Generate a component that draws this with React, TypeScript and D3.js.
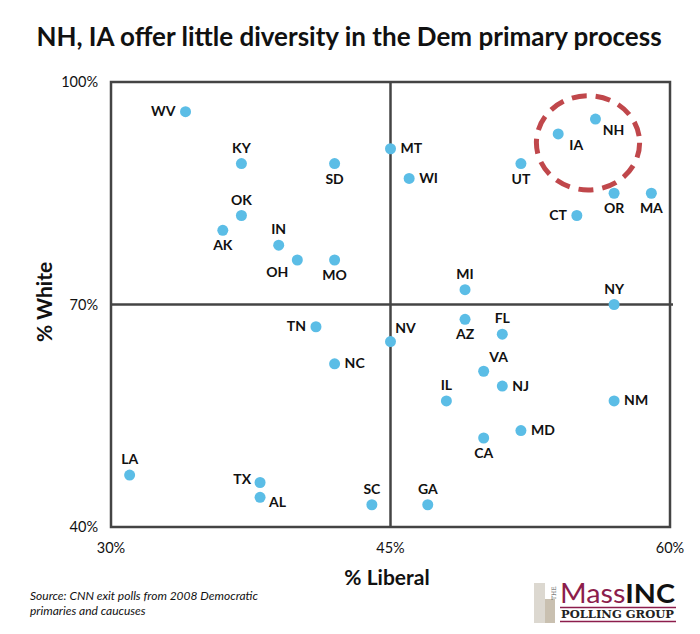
import React from "react";
import * as d3 from "d3";

const states = ["WV","KY","SD","OK","AK","IN","OH","MO","MT","WI","UT","IA","NH","OR","MA","CT","MI","NY","NV","AZ","FL","VA","NJ","IL","NM","MD","CA","GA","TN","NC","LA","TX","AL","SC"];
const liberal = [34,37,42,37,36,39,40,42,45,46,52,54,56,57,59,55,49,57,45,49,51,50,51,48,57,52,50,47,41,42,31,38,38,44];
const white = [96,89,89,82,80,78,76,76,91,87,89,93,95,85,85,82,72,70,65,68,66,61,59,57,57,53,52,43,67,62,47,46,44,43];
const labelPos = ["left","above","below","above","below","above","belowleft","below","right","right","below","belowright","belowright","below","below","left","above","above","aboveright","below","above","aboveright","right","above","right","right","below","above","left","right","above","leftup","rightdown","above"];

const xTicks = [30, 45, 60];
const yTicks = [40, 70, 100];
const highlightCenter = [55.6, 91.8];
const highlightRadius = [2.77, 6.35];

const W = 700, H = 634;
const FONT = "Lato, 'Open Sans', sans-serif";

export default function App() {
  const x = d3.scaleLinear().domain([30, 60]).range([111, 670]);
  const y = d3.scaleLinear().domain([40, 100]).range([527, 82]);
  const ink = "#111";
  const dot = "#5bbde6";

  const off = (p: string): [number, number, string] => {
    switch (p) {
      case "left": return [-10, 4.5, "end"];
      case "right": return [10, 4.5, "start"];
      case "above": return [0, -11, "middle"];
      case "below": return [0, 20, "middle"];
      case "belowleft": return [-20, 17, "middle"];
      case "belowright": return [18, 16, "middle"];
      case "aboveright": return [15, -9, "middle"];
      case "leftup": return [-9, 1, "end"];
      case "rightdown": return [9, 10, "start"];
      default: return [0, 0, "middle"];
    }
  };

  return (
    <svg width={W} height={H} style={{ position: "absolute", left: 0, top: 0, background: "#fff" }} fontFamily={FONT}>
      <rect width={W} height={H} fill="#fff" />
      <text x={349} y={46} textAnchor="middle" fontSize={26} fontWeight={700} fill={ink}>NH, IA offer little diversity in the Dem primary process</text>

      {/* frame */}
      <rect x={x(30)} y={y(100)} width={x(60) - x(30)} height={y(40) - y(100)} fill="none" stroke="#444" strokeWidth={2.5} />
      <line x1={x(30)} x2={x(60) + 3} y1={y(70)} y2={y(70)} stroke="#444" strokeWidth={2.5} />
      <line x1={x(45)} x2={x(45)} y1={y(100)} y2={y(40)} stroke="#444" strokeWidth={2.5} />

      {yTicks.map(t => (
        <text key={"y" + t} x={98} y={y(t)} dy="0.35em" textAnchor="end" fontSize={14.5} fill={ink}>{t}%</text>
      ))}
      {xTicks.map(t => (
        <text key={"x" + t} x={x(t)} y={553} textAnchor="middle" fontSize={14.5} fill={ink}>{t}%</text>
      ))}
      <text x={387} y={585} textAnchor="middle" fontSize={21} fontWeight={700} fill={ink}>% Liberal</text>
      <text transform="translate(52,302) rotate(-90)" textAnchor="middle" fontSize={21} fontWeight={700} fill={ink}>% White</text>

      <ellipse cx={x(highlightCenter[0])} cy={y(highlightCenter[1])}
        rx={x(highlightCenter[0] + highlightRadius[0]) - x(highlightCenter[0])}
        ry={y(highlightCenter[1] - highlightRadius[1]) - y(highlightCenter[1])}
        fill="none" stroke="#c0474b" strokeWidth={5} strokeDasharray="15 9" />

      {states.map((s, i) => {
        const cx = x(liberal[i]), cy = y(white[i]);
        const [dx, dy, anchor] = off(labelPos[i]);
        return (
          <g key={s}>
            <circle cx={cx} cy={cy} r={5.5} fill={dot} />
            <text x={cx + dx} y={cy + dy} textAnchor={anchor} fontSize={14} fontWeight={700} fill={ink}>{s}</text>
          </g>
        );
      })}

      <text x={30} y={600} fontSize={12} fontStyle="italic" fill={ink}>Source: CNN exit polls from 2008 Democratic</text>
      <text x={30} y={615} fontSize={12} fontStyle="italic" fill={ink}>primaries and caucuses</text>

      {/* logo */}
      <rect x={534} y={583} width={11} height={40} fill="#dcd8d0" />
      <rect x={545} y={599} width={10} height={24} fill="#c9c0b0" />
      <text transform="translate(556,600) rotate(-90)" fontSize={6} fill="#555" fontFamily="'DejaVu Serif', serif">THE</text>
      <text x={560} y={603} fontSize={26} fill="#8c1d4c" fontFamily={FONT} textLength={115} lengthAdjust="spacingAndGlyphs">Mass<tspan fill="#111" fontWeight={700}>INC</tspan></text>
      <line x1={560} x2={676} y1={607.5} y2={607.5} stroke="#8c1d4c" strokeWidth={1.5} />
      <text x={561} y={618} fontSize={10.5} fontWeight={700} fill="#222" fontFamily="'DejaVu Serif', 'Liberation Serif', serif" textLength={113} lengthAdjust="spacingAndGlyphs">POLLING GROUP</text>
      <line x1={560} x2={676} y1={621.5} y2={621.5} stroke="#8c1d4c" strokeWidth={1.5} />
    </svg>
  );
}
